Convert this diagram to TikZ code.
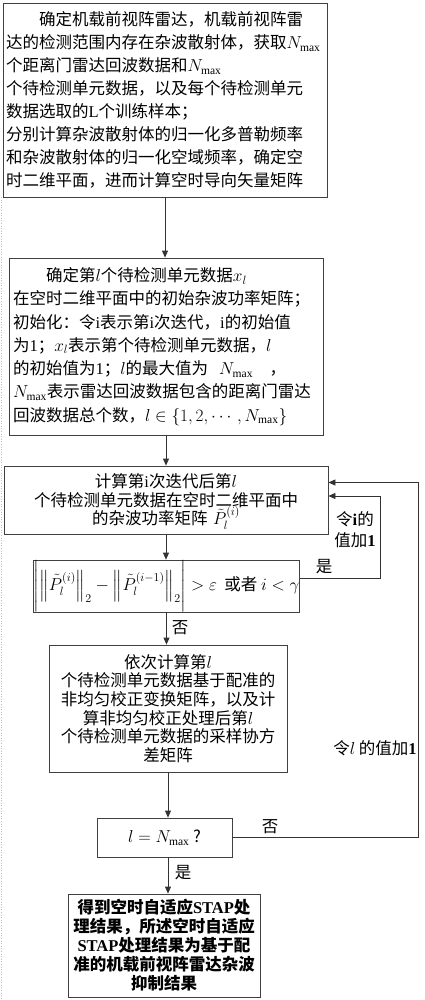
\documentclass[tikz,border=0pt]{standalone}
\usepackage{amsmath}
\usepackage{fontspec}
\setmainfont{Noto Sans CJK SC}
\newfontfamily\tm{Liberation Serif}
\usetikzlibrary{arrows.meta}
\newcommand{\Nmx}{N_{\text{\tm max}}}
\tikzset{
  box/.style={draw=black!75, line width=0.8pt, inner sep=0pt},
  arr/.style={draw=black!80, line width=0.8pt, -{Triangle[length=7pt,width=6pt]}},
  lbl/.style={inner sep=0pt, font=\fontsize{16.5}{20}\selectfont}
}
\begin{document}
\begin{tikzpicture}[x=1pt,y=-1pt]
\useasboundingbox (0,0) rectangle (424,1000);
\draw[gray!50, dotted, line width=0.6pt] (1,197) -- (1,1000);

\node[box, minimum width=324pt, minimum height=194pt, text width=318pt, align=left,
      font=\fontsize{16.5}{23}\selectfont] (b1) at (165,100) {%
\hspace*{2em}确定机载前视阵雷达，机载前视阵雷\\
达的检测范围内存在杂波散射体，获取$\Nmx$\\
个距离门雷达回波数据和$\Nmx$\\
个待检测单元数据，以及每个待检测单元\\
数据选取的{\tm L}个训练样本；\\
分别计算杂波散射体的归一化多普勒频率\\
和杂波散射体的归一化空域频率，确定空\\
时二维平面，进而计算空时导向矢量矩阵};

\node[box, minimum width=314pt, minimum height=177pt, text width=306pt, align=left,
      font=\fontsize{16.5}{23.3}\selectfont] (b2) at (166,346.5) {%
\hspace*{2em}确定第$l$个待检测单元数据$x_l$\\
在空时二维平面中的初始杂波功率矩阵；\\
初始化：令{\tm i}表示第{\tm i}次迭代，{\tm i}的初始值\\
为{\tm 1}；$x_l$表示第个待检测单元数据，$l$\\
的初始值为{\tm 1}；$l$的最大值为\ \ $\Nmx$\quad ，\\
$\Nmx$表示雷达回波数据包含的距离门雷达\\
回波数据总个数，$l\in\left\{1,2,\cdots,\Nmx\right\}$};

\node[box, minimum width=324pt, minimum height=68pt, text width=318pt, align=center,
      font=\fontsize{16.5}{18.3}\selectfont] (b3) at (166,500) {%
计算第{\tm i}次迭代后第$l$\\
个待检测单元数据在空时二维平面中\\
的杂波功率矩阵 \smash{$\tilde{P}_l^{(i)}$}};

\node[box, minimum width=263pt, minimum height=42pt, align=center,
      font=\fontsize{16.5}{20}\selectfont] (cond) at (166.5,586) {%
$\Biggl|\Bigl\|\tilde{P}_l^{(i)}\Bigr\|_2-\Bigl\|\tilde{P}_l^{(i-1)}\Bigr\|_2\Biggr|>\varepsilon$\ \ 或者 $i<\gamma$};

\node[box, minimum width=238pt, minimum height=127pt, text width=232pt, align=center,
      font=\fontsize{16.5}{18.7}\selectfont] (b4) at (168,708.5) {%
依次计算第$l$\\
个待检测单元数据基于配准的\\
非均匀校正变换矩阵，以及计\\
算非均匀校正处理后第$l$\\
个待检测单元数据的采样协方\\
差矩阵};

\node[box, minimum width=135pt, minimum height=39pt, align=center,
      font=\fontsize{16.5}{20}\selectfont] (dec) at (164.5,837.5) {$l=\Nmx$ ?};

\node[box, minimum width=192pt, minimum height=103pt, text width=186pt, align=center,
      font=\fontsize{16.5}{19}\selectfont\bfseries] (fin) at (164,945.5) {%
得到空时自适应{\tm\bfseries STAP}处\\
理结果，所述空时自适应\\
{\tm\bfseries STAP}处理结果为基于配\\
准的机载前视阵雷达杂波\\
抑制结果};

% vertical flow
\draw[arr] (b1.south) -- (b1.south |- b2.north);
\draw[arr] (b2.south) -- (b2.south |- b3.north);
\draw[arr] (b3.south) -- (b3.south |- cond.north);
\draw[arr] (cond.south) -- (cond.south |- b4.north);
\draw[arr] (b4.south) -- (b4.south |- dec.north);
\draw[arr] ([xshift=3.5pt]dec.south) -- ([xshift=3.5pt]dec.south |- fin.north);

% loops
\coordinate (lp1) at (380,496);
\coordinate (lp2) at (418,482.5);
\draw[arr] ([yshift=8pt]cond.east) -| (lp1) -- ([yshift=4pt]b3.east);
\draw[arr] (dec.east) -| (lp2) -- ([yshift=17.5pt]b3.east);

% labels
\node[lbl] (yes1) at (324,567) {是};
\node[lbl, align=center, font=\fontsize{16.5}{21}\selectfont] (inc1) at (355,530) {令{\tm\bfseries i}的\\值加{\tm\bfseries 1}};
\node[lbl] (no1) at (180,628) {否};
\node[lbl] (no2) at (270,827) {否};
\node[lbl] (inc2) at (375,748) {令$l$ 的值加{\tm\bfseries 1}};
\node[lbl] (yes2) at (183,873) {是};
\end{tikzpicture}
\end{document}
